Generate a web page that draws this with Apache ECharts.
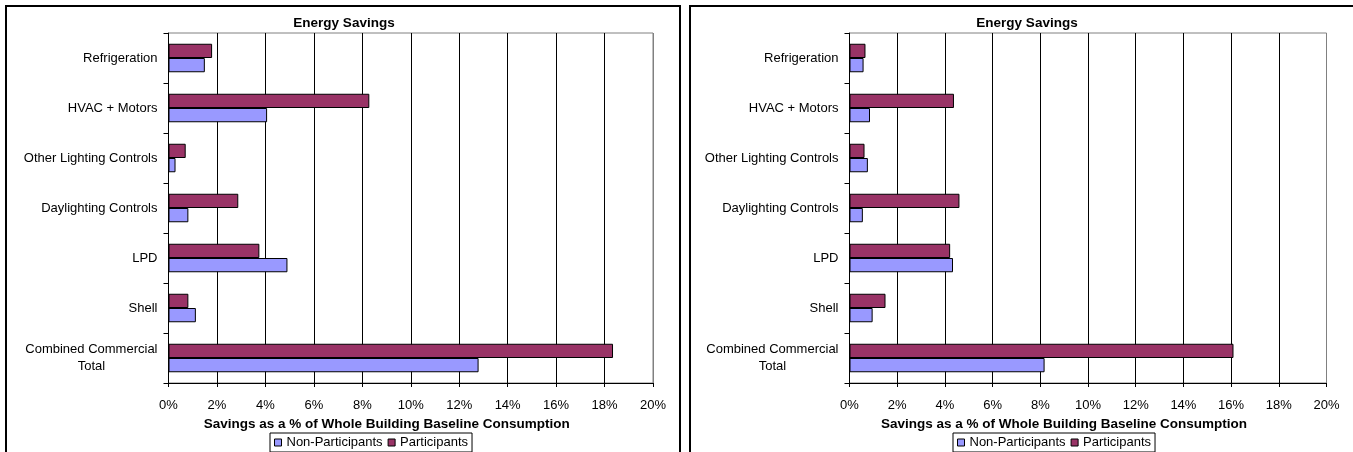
<!DOCTYPE html>
<html>
<head>
<meta charset="utf-8">
<title>Energy Savings</title>
<script src="https://cdn.jsdelivr.net/npm/echarts@6/dist/echarts.min.js"></script>
<style>
  html, body { margin: 0; padding: 0; background: #fff; }
  #chart { width: 1353px; height: 452px; }
</style>
</head>
<body>
<div id="chart"></div>
<script>
// Measure categories, top to bottom
const categories = [
  'Refrigeration',
  'HVAC + Motors',
  'Other Lighting Controls',
  'Daylighting Controls',
  'LPD',
  'Shell',
  'Combined Commercial\nTotal'
];

// Savings as % of whole-building baseline consumption — first panel
const leftNonParticipants = [1.50, 4.07, 0.29, 0.82, 4.91, 1.13, 12.80];
const leftParticipants    = [1.80, 8.29, 0.71, 2.88, 3.75, 0.82, 18.35];

// Second panel
const rightNonParticipants = [0.59, 0.86, 0.77, 0.56, 4.34, 0.97, 8.18];
const rightParticipants    = [0.67, 4.38, 0.63, 4.61, 4.22, 1.51, 16.10];

const seriesNames = ['Non-Participants', 'Participants'];
const chartTitle = 'Energy Savings';
const axisTitle = 'Savings as a % of Whole Building Baseline Consumption';
const xMin = 0, xMax = 20, xStep = 2;

const FONT = '"Liberation Sans", Arial, sans-serif';
const NP_COLOR = '#9999FF';
const P_COLOR = '#993366';
const LABEL_SIZE = 13;
const BOLD_SIZE = 13.5;

// Panel geometry
const panels = [
  { box: [6, 6, 674], grid: { left: 168.5, top: 33, width: 484.5, height: 350 }, titleX: 344, legendX: 270,
    np: leftNonParticipants, p: leftParticipants },
  { box: [690, 6, 700], grid: { left: 849.5, top: 33, width: 477, height: 350 }, titleX: 1027, legendX: 953,
    np: rightNonParticipants, p: rightParticipants }
];

// gridline colours: last line (at max) matches the plot-area frame
const nLines = Math.round((xMax - xMin) / xStep) + 1;
const splitColors = [];
for (let i = 0; i < nLines; i++) splitColors.push(i === nLines - 1 ? '#808080' : '#000');

const option = {
  animation: false,
  backgroundColor: '#fff',
  textStyle: { fontFamily: FONT },
  title: [],
  legend: [],
  grid: [],
  xAxis: [],
  yAxis: [],
  series: [],
  graphic: []
};

panels.forEach((pn, i) => {
  option.graphic.push({
    type: 'rect', silent: true, z: -1,
    shape: { x: pn.box[0], y: pn.box[1], width: pn.box[2], height: 500 },
    style: { fill: '#fff', stroke: '#000', lineWidth: 2 }
  });
  option.title.push({
    text: chartTitle, left: pn.titleX, top: 16, textAlign: 'center', padding: 0,
    textStyle: { fontFamily: FONT, fontSize: BOLD_SIZE, fontWeight: 'bold', color: '#000' }
  });
  option.grid.push(Object.assign({
    show: true, borderColor: '#808080', borderWidth: 1, backgroundColor: 'transparent'
  }, pn.grid));
  option.xAxis.push({
    type: 'value', gridIndex: i, min: xMin, max: xMax, interval: xStep,
    name: axisTitle, nameLocation: 'middle', nameGap: 34,
    nameTextStyle: { fontFamily: FONT, fontSize: BOLD_SIZE, fontWeight: 'bold', color: '#000', padding: [0, 48, 0, 0] },
    axisLine: { show: true, lineStyle: { color: '#000', width: 1 } },
    axisTick: { show: true, length: 4, lineStyle: { color: '#000' } },
    axisLabel: { formatter: '{value}%', fontFamily: FONT, fontSize: LABEL_SIZE, color: '#000', margin: 16 },
    splitLine: { show: true, lineStyle: { color: splitColors, width: 1 } }
  });
  option.yAxis.push({
    type: 'category', gridIndex: i, data: categories, inverse: true,
    axisLine: { show: true, lineStyle: { color: '#000', width: 1 } },
    axisTick: { show: true, length: 5, inside: false, lineStyle: { color: '#000' } },
    axisLabel: {
      fontFamily: FONT, fontSize: LABEL_SIZE, color: '#000', margin: 11,
      formatter: v => v.split('\n').map(s => '{c|' + s + '}').join('\n'),
      rich: { c: { fontFamily: FONT, fontSize: LABEL_SIZE, color: '#000', align: 'center', lineHeight: 17 } }
    },
    splitLine: { show: false }
  });
  option.legend.push({
    data: seriesNames.map(n => n + (i ? ' ' : '')),
    formatter: n => n.trim(),
    left: pn.legendX, top: 433, orient: 'horizontal',
    icon: 'rect', itemWidth: 7, itemHeight: 7, itemGap: 5,
    padding: [3, 4, 3, 4], borderColor: '#000', borderWidth: 1, backgroundColor: '#fff',
    textStyle: { fontFamily: FONT, fontSize: LABEL_SIZE, color: '#000' },
    itemStyle: { borderColor: '#000', borderWidth: 1 },
    selectedMode: false
  });
  const common = {
    type: 'bar', xAxisIndex: i, yAxisIndex: i,
    barCategoryGap: '43%', barGap: '0%'
  };
  option.series.push(Object.assign({}, common, {
    name: seriesNames[1] + (i ? ' ' : ''), data: pn.p,
    itemStyle: { color: P_COLOR, borderColor: '#000', borderWidth: 1 }
  }));
  option.series.push(Object.assign({}, common, {
    name: seriesNames[0] + (i ? ' ' : ''), data: pn.np,
    itemStyle: { color: NP_COLOR, borderColor: '#000', borderWidth: 1 }
  }));
});

const chart = echarts.init(document.getElementById('chart'), null, { renderer: 'canvas' });
chart.setOption(option);
</script>
</body>
</html>
